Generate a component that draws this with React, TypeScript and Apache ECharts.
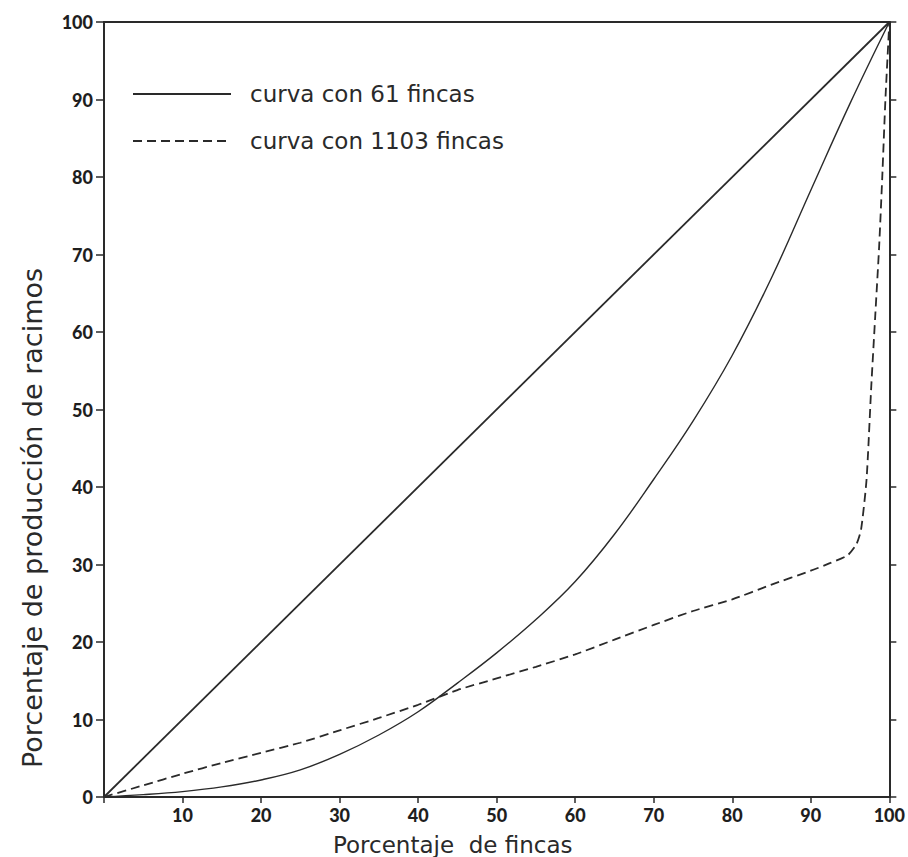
import React, { useEffect, useRef } from "react";
import * as echarts from "echarts";

// Axis ticks
const xTicks = [0, 10, 20, 30, 40, 50, 60, 70, 80, 90, 100];
const yTicks = [0, 10, 20, 30, 40, 50, 60, 70, 80, 90, 100];

// Line of equality
const equalX = [0, 100];
const equalY = [0, 100];

// Lorenz curve, 61 farms (solid)
const curve61X = [0, 5, 10, 15, 20, 25, 30, 35, 40, 45, 50, 55, 60, 65, 70, 75, 80, 85, 90, 95, 100];
const curve61Y = [0, 0.3, 0.7, 1.3, 2.2, 3.5, 5.5, 8.0, 11.0, 14.7, 18.6, 22.9, 27.8, 33.9, 41, 48.5, 57, 67, 78.3, 89.5, 100];

// Lorenz curve, 1103 farms (dashed)
const curve1103X = [0, 5, 10, 15, 20, 25, 30, 35, 40, 45, 50, 55, 60, 65, 70, 75, 80, 85, 90, 92.5, 94.7, 95.8, 96.4, 97.1, 97.7, 98.2, 98.7, 99.1, 99.5, 100];
const curve1103Y = [0, 1.5, 3.0, 4.4, 5.7, 7.0, 8.6, 10.2, 11.9, 13.8, 15.3, 16.8, 18.4, 20.3, 22.2, 24.0, 25.5, 27.4, 29.2, 30.2, 31.2, 32.6, 34.5, 41, 53, 62, 71, 80, 90, 100];

const seriesNames = ["curva con 61 fincas", "curva con 1103 fincas"];
const xAxisName = "Porcentaje  de fincas";
const yAxisName = "Porcentaje de producción de racimos";

const pairs = (xs: number[], ys: number[]) => xs.map((x, i) => [x, ys[i]]);

export default function App() {
  const ref = useRef<HTMLDivElement>(null);

  useEffect(() => {
    if (!ref.current) return;
    const chart = echarts.init(ref.current, null, { renderer: "svg" });
    const ink = "#2a2a2a";
    const tickFont = {
      fontFamily: "Lato",
      fontWeight: 900,
      fontSize: 18,
      color: "#1e1e1e",
    };
    chart.setOption({
      animation: false,
      backgroundColor: "#ffffff",
      grid: { left: 104, top: 22, width: 791, height: 775, containLabel: false },
      xAxis: [
        {
          type: "value",
          position: "bottom",
          min: xTicks[0],
          max: xTicks[xTicks.length - 1],
          interval: 10,
          axisLine: { show: true, onZero: false, lineStyle: { color: ink, width: 2 } },
          axisTick: { show: true, inside: false, length: 6, lineStyle: { color: ink, width: 1.5 } },
          axisLabel: {
            ...tickFont,
            margin: 9,
            formatter: (v: number) => (v === 0 ? "" : String(v)),
          },
          splitLine: { show: false },
        },
        {
          type: "value",
          position: "top",
          min: 0,
          max: 100,
          axisLine: { show: true, onZero: false, lineStyle: { color: ink, width: 2 } },
          axisTick: { show: false },
          axisLabel: { show: false },
          splitLine: { show: false },
        },
      ],
      yAxis: [
        {
          type: "value",
          position: "left",
          min: yTicks[0],
          max: yTicks[yTicks.length - 1],
          interval: 10,
          axisLine: { show: true, onZero: false, lineStyle: { color: ink, width: 2 } },
          axisTick: { show: true, inside: false, length: 8, lineStyle: { color: ink, width: 1.5 } },
          axisLabel: { ...tickFont, margin: 11 },
          splitLine: { show: false },
        },
        {
          type: "value",
          position: "right",
          min: 0,
          max: 100,
          interval: 10,
          axisLine: { show: true, onZero: false, lineStyle: { color: ink, width: 2 } },
          axisTick: { show: true, inside: false, length: 7, lineStyle: { color: ink, width: 1.5 } },
          axisLabel: { show: false },
          splitLine: { show: false },
        },
      ],
      legend: {
        show: true,
        orient: "vertical",
        left: 132,
        top: 80,
        padding: 0,
        itemWidth: 98,
        itemHeight: 14,
        itemGap: 19,
        data: seriesNames,
        itemStyle: { opacity: 0 },
        textStyle: {
          fontFamily: "DejaVu Sans",
          fontSize: 23,
          color: "#2a2a2a",
          lineHeight: 28,
          padding: [0, 0, 0, 14],
        },
      },
      graphic: [
        {
          type: "text",
          left: 333,
          top: 833,
          style: {
            text: xAxisName,
            fontFamily: "DejaVu Sans",
            fontSize: 23,
            fill: "#2a2a2a",
          },
        },
        {
          type: "text",
          x: 32,
          y: 518,
          rotation: Math.PI / 2,
          style: {
            text: yAxisName,
            fontFamily: "DejaVu Sans",
            fontSize: 27,
            fill: "#2a2a2a",
            align: "center",
            verticalAlign: "middle",
          },
        },
      ],
      series: [
        {
          name: "igualdad",
          type: "line",
          data: pairs(equalX, equalY),
          showSymbol: false,
          symbol: "none",
          clip: false,
          lineStyle: { color: ink, width: 1.8 },
          silent: true,
        },
        {
          name: seriesNames[0],
          type: "line",
          data: pairs(curve61X, curve61Y),
          showSymbol: false,
          symbol: "none",
          smooth: 0.4,
          clip: false,
          itemStyle: { color: ink },
          lineStyle: { color: ink, width: 1.4, type: "solid" },
        },
        {
          name: seriesNames[1],
          type: "line",
          data: pairs(curve1103X, curve1103Y),
          showSymbol: false,
          symbol: "none",
          smooth: 0.2,
          clip: false,
          itemStyle: { color: ink },
          lineStyle: { color: ink, width: 1.8, type: [9, 5] },
        },
      ],
    });
    return () => chart.dispose();
  }, []);

  return (
    <div
      ref={ref}
      style={{ position: "absolute", left: 0, top: 0, width: 908, height: 857 }}
    />
  );
}
